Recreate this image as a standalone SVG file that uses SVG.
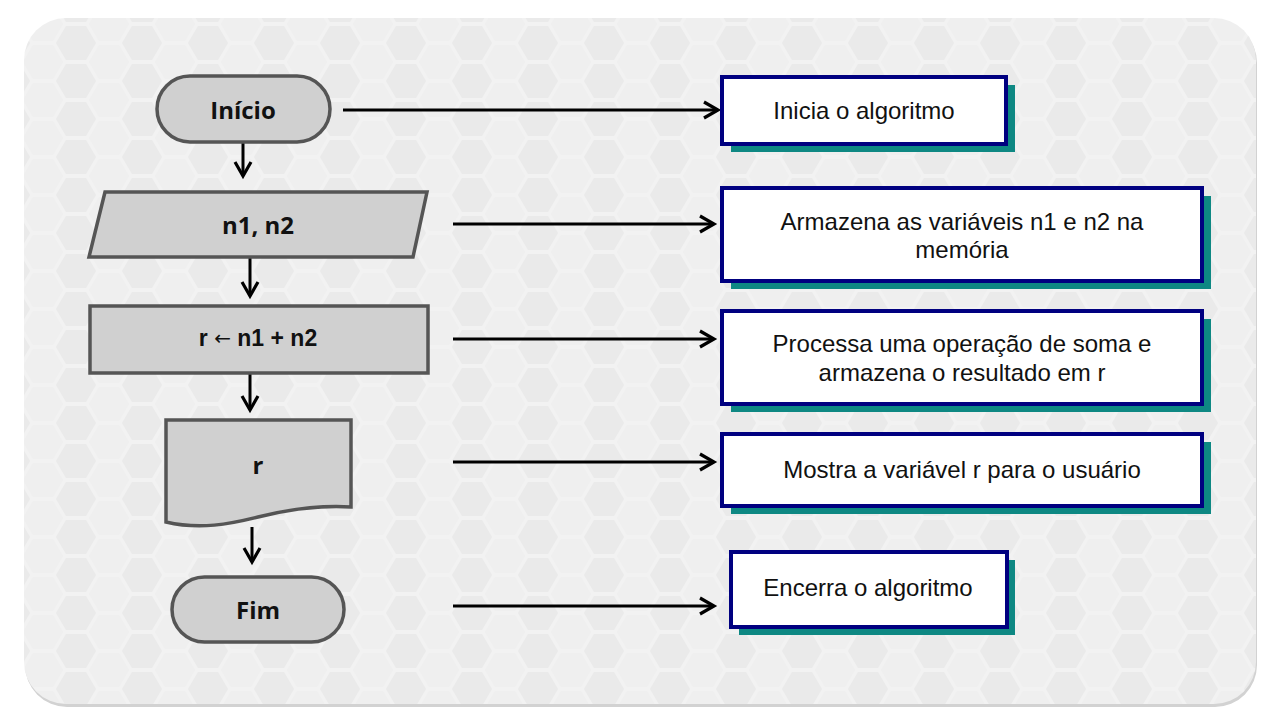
<svg xmlns="http://www.w3.org/2000/svg" width="1280" height="720" viewBox="0 0 1280 720">
<defs>
<style>
.node{fill:#d0d0d0;stroke:#555555;stroke-width:3.5}
.lbl{font-family:"Open Sans","Liberation Sans",sans-serif;font-weight:bold;font-size:24px;fill:#111111;text-anchor:middle;dominant-baseline:central}
.lbl2{font-family:"Liberation Sans",Arial,sans-serif;font-weight:bold;font-size:23px;fill:#111111;text-anchor:middle;dominant-baseline:central}
.arrowglyph{font-family:"DejaVu Sans",sans-serif;font-weight:normal;font-size:20px}
.box{fill:#ffffff;stroke:#000080;stroke-width:4}
.shadow{fill:#0e8883}
.txt{font-family:"Liberation Sans",Arial,sans-serif;font-size:24px;fill:#111111;text-anchor:middle;dominant-baseline:central}
.conn{stroke:#000000;stroke-width:3;fill:none}
</style>
<marker id="arr" markerUnits="userSpaceOnUse" markerWidth="20" markerHeight="20" viewBox="0 0 20 20" refX="16" refY="10" orient="auto">
<path d="M2,2 L16,10 L2,18" fill="none" stroke="#000" stroke-width="3.2" stroke-linejoin="miter"/>
</marker>
<pattern id="hex" patternUnits="userSpaceOnUse" width="66" height="38" x="10" y="5">
<rect width="66" height="38" fill="#f2f2f2"/>
<g fill="#eaeaea">
<polygon points="-20,0 -10,-17 10,-17 20,0 10,17 -10,17"/>
<polygon points="46,0 56,-17 76,-17 86,0 76,17 56,17"/>
<polygon points="-20,38 -10,21 10,21 20,38 10,55 -10,55"/>
<polygon points="46,38 56,21 76,21 86,38 76,55 56,55"/>
</g>
<polygon points="13,19 23,2 43,2 53,19 43,36 23,36" fill="#efefef"/>
</pattern>
</defs>
<rect x="0" y="0" width="1280" height="720" fill="#ffffff"/>
<rect x="25" y="21" width="1232" height="686" rx="42" fill="#d2d2d2"/>
<rect x="24" y="18" width="1232" height="686" rx="42" fill="url(#hex)"/>

<g id="connectors">
<line class="conn" x1="243" y1="143" x2="243" y2="176" marker-end="url(#arr)"/>
<line class="conn" x1="250" y1="258" x2="250" y2="296" marker-end="url(#arr)"/>
<line class="conn" x1="250" y1="374" x2="250" y2="410" marker-end="url(#arr)"/>
<line class="conn" x1="252" y1="527" x2="252" y2="562" marker-end="url(#arr)"/>
<line class="conn" x1="343" y1="110" x2="718" y2="110" marker-end="url(#arr)"/>
<line class="conn" x1="453" y1="224" x2="714" y2="224" marker-end="url(#arr)"/>
<line class="conn" x1="453" y1="339" x2="714" y2="339" marker-end="url(#arr)"/>
<line class="conn" x1="453" y1="462" x2="714" y2="462" marker-end="url(#arr)"/>
<line class="conn" x1="453" y1="606" x2="714" y2="606" marker-end="url(#arr)"/>
</g>

<g id="inicio">
<rect class="node" x="157" y="76" width="173" height="66" rx="33"/>
<text class="lbl" x="243" y="109">Início</text>
</g>
<g id="entrada">
<polygon class="node" points="105,192 427,192 413,257 89,257"/>
<text class="lbl" x="258" y="224" font-size="23">n1, n2</text>
</g>
<g id="processo">
<rect class="node" x="90" y="306" width="338" height="67"/>
<text class="lbl2" x="258" y="338">r <tspan class="arrowglyph">←</tspan> n1 + n2</text>
</g>
<g id="saida">
<path class="node" d="M166,420 L351,420 L351,507 C318,505 290,509 258,517 C230,524 200,530 166,522 Z"/>
<text class="lbl" x="258" y="464">r</text>
</g>
<g id="fim">
<rect class="node" x="172" y="577" width="172" height="65" rx="32.5"/>
<text class="lbl" x="258" y="609">Fim</text>
</g>

<g id="desc1">
<rect class="shadow" x="731" y="85" width="284" height="67"/>
<rect class="box" x="722" y="77" width="284" height="67"/>
<text class="txt" x="864" y="110">Inicia o algoritmo</text>
</g>
<g id="desc2">
<rect class="shadow" x="731" y="196" width="480" height="93"/>
<rect class="box" x="722" y="188" width="480" height="93"/>
<text class="txt" x="962" y="221">Armazena as variáveis n1 e n2 na</text>
<text class="txt" x="962" y="249">memória</text>
</g>
<g id="desc3">
<rect class="shadow" x="731" y="319" width="480" height="93"/>
<rect class="box" x="722" y="311" width="480" height="93"/>
<text class="txt" x="962" y="343">Processa uma operação de soma e</text>
<text class="txt" x="962" y="372">armazena o resultado em r</text>
</g>
<g id="desc4">
<rect class="shadow" x="731" y="442" width="480" height="72"/>
<rect class="box" x="722" y="434" width="480" height="72"/>
<text class="txt" x="962" y="469">Mostra a variável r para o usuário</text>
</g>
<g id="desc5">
<rect class="shadow" x="739" y="560" width="276" height="75"/>
<rect class="box" x="731" y="552" width="276" height="75"/>
<text class="txt" x="868" y="587">Encerra o algoritmo</text>
</g>
</svg>
